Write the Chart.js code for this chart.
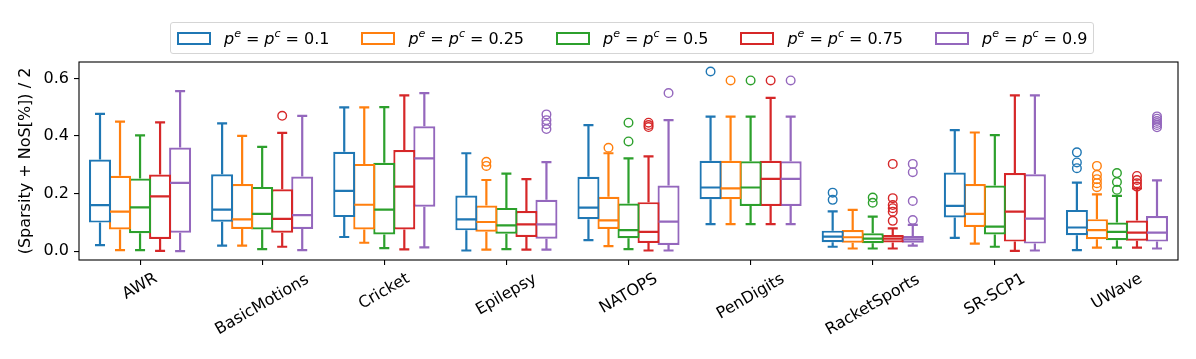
<!DOCTYPE html>
<html>
<head>
<meta charset="utf-8">
<script src="https://cdn.jsdelivr.net/npm/chart.js@4.4.1/dist/chart.umd.min.js"></script>
<style>
html,body{margin:0;padding:0;background:#fff;}
#wrap{position:relative;width:1196px;height:359px;overflow:hidden;}
#legend{position:absolute;left:170px;top:22px;box-sizing:border-box;height:32px;border:1px solid #d5d5d5;border-radius:3px;display:flex;align-items:center;padding:0 6px 0 6px;font-family:"DejaVu Sans";font-size:16px;color:#000;background:rgba(255,255,255,0.85);white-space:nowrap;}
.item{display:flex;align-items:center;margin-right:32px;}
.item:last-child{margin-right:0;}
.patch{width:30px;height:9px;border:2px solid;margin-right:13px;background:#fff;}
.lab i{font-style:italic;}
.lab sup{font-size:11px;font-style:italic;vertical-align:7px;line-height:0;}
.lab .eq{margin:0 5px;}
</style>
</head>
<body>
<div id="wrap">
<canvas id="c" width="1196" height="359"></canvas>
<div id="legend"></div>
</div>
<script>
const categories = ['AWR','BasicMotions','Cricket','Epilepsy','NATOPS','PenDigits','RacketSports','SR-SCP1','UWave'];
const seriesNames = ['0.1','0.25','0.5','0.75','0.9'];
const seriesColors = ['#1f77b4','#ff7f0e','#2ca02c','#d62728','#9467bd'];
const yTicks = [0.0, 0.2, 0.4, 0.6];

// rows: series (0.1, 0.25, 0.5, 0.75, 0.9); columns: categories
const whiskerLow = [
  [0.021, 0.019, 0.049, 0.002, 0.038, 0.094, 0.015, 0.046, 0.003],
  [0.003, 0.019, 0.029, 0.005, 0.017, 0.094, 0.009, 0.026, 0.012],
  [0.003, 0.007, 0.010, 0.007, 0.007, 0.094, 0.009, 0.015, 0.012],
  [0.001, 0.015, 0.006, 0.005, 0.002, 0.094, 0.009, 0.001, 0.012],
  [0.000, 0.003, 0.013, 0.005, 0.002, 0.094, 0.019, 0.002, 0.009]
];
const q1 = [
  [0.099, 0.102, 0.118, 0.072, 0.111, 0.180, 0.031, 0.117, 0.055],
  [0.075, 0.077, 0.075, 0.067, 0.077, 0.180, 0.029, 0.084, 0.041],
  [0.062, 0.075, 0.058, 0.060, 0.045, 0.157, 0.027, 0.058, 0.038],
  [0.042, 0.064, 0.075, 0.049, 0.028, 0.157, 0.030, 0.033, 0.036],
  [0.064, 0.077, 0.154, 0.043, 0.021, 0.157, 0.029, 0.026, 0.033]
];
const median = [
  [0.160, 0.144, 0.209, 0.110, 0.151, 0.221, 0.050, 0.157, 0.082],
  [0.137, 0.110, 0.161, 0.101, 0.107, 0.218, 0.048, 0.129, 0.073],
  [0.152, 0.129, 0.144, 0.089, 0.073, 0.221, 0.043, 0.085, 0.067],
  [0.190, 0.112, 0.224, 0.093, 0.067, 0.251, 0.043, 0.137, 0.064],
  [0.237, 0.125, 0.322, 0.093, 0.102, 0.251, 0.041, 0.113, 0.064]
];
const q3 = [
  [0.318, 0.267, 0.345, 0.193, 0.258, 0.314, 0.071, 0.273, 0.143],
  [0.262, 0.233, 0.303, 0.158, 0.189, 0.314, 0.073, 0.233, 0.111],
  [0.252, 0.223, 0.307, 0.150, 0.165, 0.312, 0.062, 0.228, 0.099],
  [0.266, 0.215, 0.351, 0.139, 0.170, 0.314, 0.056, 0.271, 0.106],
  [0.360, 0.259, 0.434, 0.178, 0.228, 0.312, 0.052, 0.267, 0.122]
];
const whiskerHigh = [
  [0.477, 0.444, 0.499, 0.340, 0.438, 0.467, 0.138, 0.420, 0.238],
  [0.450, 0.400, 0.499, 0.247, 0.340, 0.467, 0.143, 0.412, 0.197],
  [0.402, 0.362, 0.500, 0.269, 0.322, 0.467, 0.120, 0.403, 0.192],
  [0.447, 0.411, 0.541, 0.250, 0.329, 0.532, 0.079, 0.541, 0.218],
  [0.556, 0.470, 0.549, 0.309, 0.455, 0.467, 0.091, 0.541, 0.246]
];
const fliers = [
  [[], [], [], [], [], [0.624], [0.203, 0.178], [], [0.343, 0.308, 0.288]],
  [[], [], [], [0.310, 0.296], [0.359], [0.593], [], [], [0.296, 0.265, 0.250, 0.236, 0.222]],
  [[], [], [], [], [0.446, 0.381], [0.593], [0.186, 0.168], [], [0.271, 0.240, 0.213]],
  [[], [0.470], [], [], [0.446, 0.438, 0.431], [0.593], [0.303, 0.184, 0.160, 0.149, 0.137, 0.105], [], [0.261, 0.247, 0.236, 0.224]],
  [[], [], [], [0.475, 0.455, 0.441, 0.424], [0.549], [0.593], [0.303, 0.274, 0.174, 0.108], [], [0.468, 0.460, 0.452, 0.445, 0.438, 0.430]]
];
const yTitle = '(Sparsity + NoS[%]) / 2';

// HTML legend
const legendEl = document.getElementById('legend');
seriesNames.forEach((s, i) => {
  const it = document.createElement('div');
  it.className = 'item';
  it.innerHTML = '<div class="patch" style="border-color:' + seriesColors[i] + '"></div>' +
    '<span class="lab"><i>p</i><sup>e</sup><span class="eq">=</span><i>p</i><sup>c</sup><span class="eq">=</span>' + s + '</span>';
  legendEl.appendChild(it);
});

const FONT = 'DejaVu Sans';
const LW = 2.2;

const boxParts = {
  id: 'boxParts',
  afterDatasetsDraw(chart) {
    const ctx = chart.ctx;
    const ys = chart.scales.y;
    chart.data.datasets.forEach((ds, i) => {
      const meta = chart.getDatasetMeta(i);
      meta.data.forEach((bar, j) => {
        const cx = bar.x;
        const half = bar.width / 2 - 1;
        const cap = half / 2;
        const yLo = ys.getPixelForValue(whiskerLow[i][j]);
        const yQ1 = ys.getPixelForValue(q1[i][j]);
        const yMed = ys.getPixelForValue(median[i][j]);
        const yQ3 = ys.getPixelForValue(q3[i][j]);
        const yHi = ys.getPixelForValue(whiskerHigh[i][j]);
        ctx.save();
        ctx.strokeStyle = seriesColors[i];
        ctx.lineWidth = LW;
        ctx.lineCap = 'butt';
        ctx.beginPath();
        ctx.moveTo(cx, yQ1); ctx.lineTo(cx, yLo);
        ctx.moveTo(cx, yQ3); ctx.lineTo(cx, yHi);
        ctx.moveTo(cx - cap, yLo); ctx.lineTo(cx + cap, yLo);
        ctx.moveTo(cx - cap, yHi); ctx.lineTo(cx + cap, yHi);
        ctx.moveTo(cx - half, yMed); ctx.lineTo(cx + half, yMed);
        ctx.stroke();
        ctx.lineWidth = 1.4;
        fliers[i][j].forEach(v => {
          const py = ys.getPixelForValue(v);
          ctx.beginPath();
          ctx.arc(cx, py, 4.3, 0, Math.PI * 2);
          ctx.stroke();
        });
        ctx.restore();
      });
    });
  },
  afterDraw(chart) {
    const ctx = chart.ctx;
    const a = chart.chartArea;
    ctx.save();
    ctx.strokeStyle = '#000';
    ctx.lineWidth = 1.1;
    ctx.strokeRect(a.left, a.top, a.right - a.left, a.bottom - a.top);
    // rotated, centred category labels
    const xs = chart.scales.x;
    ctx.font = '16px "' + FONT + '"';
    ctx.fillStyle = '#000';
    ctx.textAlign = 'center';
    ctx.textBaseline = 'middle';
    categories.forEach((c, i) => {
      const x = xs.getPixelForTick(i);
      const w = ctx.measureText(c).width;
      const yc = a.bottom + 16.5 + 0.27 * w;
      ctx.save();
      ctx.translate(x, yc);
      ctx.rotate(-Math.PI / 6);
      ctx.fillText(c, 0, 0);
      ctx.restore();
    });
    ctx.restore();
  }
};

const datasets = seriesNames.map((s, i) => ({
  label: 'pᵉ = pᶜ = ' + s,
  data: categories.map((c, j) => [q1[i][j], q3[i][j]]),
  borderColor: seriesColors[i],
  backgroundColor: '#ffffff',
  borderWidth: LW,
  borderSkipped: false,
  categoryPercentage: 0.82,
  barPercentage: 1.1
}));

new Chart(document.getElementById('c'), {
  type: 'bar',
  data: { labels: categories, datasets },
  options: {
    responsive: false,
    animation: false,
    devicePixelRatio: 1,
    layout: { padding: { top: 62, right: 18, left: 0, bottom: 0 } },
    plugins: { legend: { display: false }, tooltip: { enabled: false } },
    scales: {
      x: {
        type: 'category',
        offset: true,
        grid: { display: true, offset: false, drawOnChartArea: false, drawTicks: true, tickLength: 5, color: '#000', lineWidth: 1.1 },
        border: { display: false },
        ticks: { display: false },
        afterFit(s) { s.height = 99; }
      },
      y: {
        min: -0.031,
        max: 0.657,
        afterBuildTicks(s) { s.ticks = yTicks.map(v => ({ value: v })); },
        ticks: { callback: v => Number(v).toFixed(1), font: { size: 16, family: FONT }, color: '#000', padding: 5 },
        grid: { display: true, drawOnChartArea: false, drawTicks: true, tickLength: 5, color: '#000', lineWidth: 1.1 },
        border: { display: false },
        title: { display: true, text: yTitle, font: { size: 16, family: FONT }, color: '#000', padding: { top: 16, bottom: 0 } },
        afterFit(s) { s.width = 79; }
      }
    }
  },
  plugins: [boxParts]
});
</script>
</body>
</html>
